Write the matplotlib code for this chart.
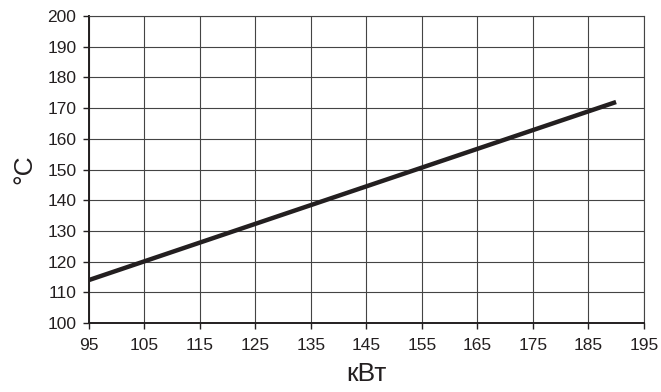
import matplotlib
matplotlib.use('Agg')
import matplotlib.pyplot as plt

# данные графика
power_kw = [95, 190]
temp_c = [114, 172]
x_ticks = list(range(95, 196, 10))
y_ticks = list(range(100, 201, 10))

plt.rcParams['font.family'] = ['Liberation Sans', 'DejaVu Sans']

fig = plt.figure(figsize=(6.61, 3.92), dpi=100)
ax = fig.add_axes([0.1346, 0.176, 0.8394, 0.783])

ax.plot(power_kw, temp_c, color='#231f20', linewidth=3.2, solid_capstyle='butt', zorder=3)

ax.set_xlim(95, 195)
ax.set_ylim(100, 200)
ax.set_xticks(x_ticks)
ax.set_yticks(y_ticks)
ax.grid(True, color='#444444', linewidth=0.8)
ax.set_axisbelow(True)

for side in ['top', 'right']:
    ax.spines[side].set_color('#444444')
    ax.spines[side].set_linewidth(0.8)
for side in ['left', 'bottom']:
    ax.spines[side].set_color('#231f20')
    ax.spines[side].set_linewidth(1.4)

ax.tick_params(direction='out', length=4, width=1, colors='#231f20', labelsize=12.5)
ax.tick_params(axis='x', pad=7)
ax.tick_params(axis='y', pad=5)
ax.set_xlabel('кВт', fontsize=19, color='#231f20', labelpad=6)
ax.set_ylabel('°C', fontsize=19, color='#231f20', labelpad=8)

fig.savefig('out.png', dpi=100)
